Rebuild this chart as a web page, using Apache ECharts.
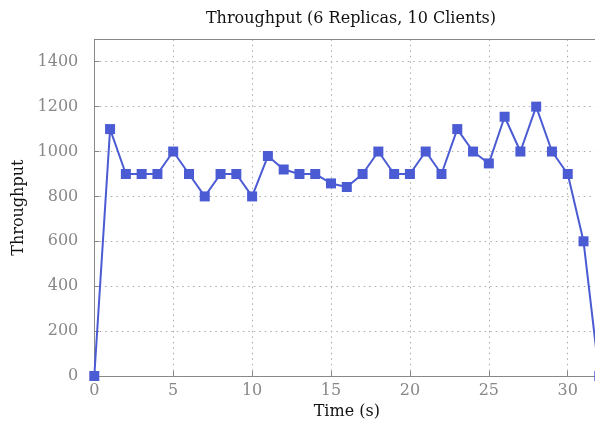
<!DOCTYPE html>
<html><head><meta charset="utf-8">
<script src="https://cdn.jsdelivr.net/npm/echarts@6/dist/echarts.min.js"></script>
<style>html,body{margin:0;padding:0;background:#fff}#c{width:595px;height:425px}</style>
</head><body><div id="c"></div>
<script>
const timeS = [0,1,2,3,4,5,6,7,8,9,10,11,12,13,14,15,16,17,18,19,20,21,22,23,24,25,26,27,28,29,30,31,32];
const throughput = [0,1100,900,900,900,1000,900,800,900,900,800,980,920,900,900,858,842,900,1000,900,900,1000,900,1100,1000,947,1155,1000,1200,1000,900,600,0];
const xTicks = [0,5,10,15,20,25,30];
const yTicks = [0,200,400,600,800,1000,1200,1400];

const FONT = '"DejaVu Serif", serif';
const chart = echarts.init(document.getElementById('c'), null, {renderer:'canvas'});
chart.setOption({
  animation:false,
  title:{text:'Throughput (6 Replicas, 10 Clients)', left:346, textAlign:'center', top:6,
    textStyle:{fontFamily:FONT, fontSize:16, fontWeight:'normal', color:'#111'}},
  grid:{left:94.3, top:39.3, right:-4.3, bottom:49, outerBoundsMode:'none', containLabel:false},
  xAxis:{type:'value', min:0, max:32, interval:5,
    name:'Time (s)', nameLocation:'middle', nameGap:27,
    nameTextStyle:{fontFamily:FONT, fontSize:16, color:'#111'},
    axisLine:{show:true, lineStyle:{color:'#888', width:1}},
    axisTick:{show:true, inside:true, length:5, lineStyle:{color:'#888'}, customValues: xTicks},
    axisLabel:{fontFamily:FONT, fontSize:16, color:'#888', margin:7,
      customValues: xTicks, formatter: v => String(v)},
    splitLine:{show:true, lineStyle:{type:[1.5,4], color:'#aaa', width:1}}},
  yAxis:{type:'value', min:0, max:1500, interval:200,
    name:'Throughput', nameLocation:'middle', nameGap:63,
    nameTextStyle:{fontFamily:FONT, fontSize:16, color:'#111'},
    axisLine:{show:true, lineStyle:{color:'#888', width:1}},
    axisTick:{show:true, inside:true, length:5, lineStyle:{color:'#888'}, customValues: yTicks},
    axisLabel:{fontFamily:FONT, fontSize:16, color:'#888', margin:16,
      customValues: yTicks, formatter: v => String(v)},
    splitLine:{show:true, lineStyle:{type:[1.5,4], color:'#aaa', width:1}}},
  graphic:[{type:'line', shape:{x1:94.3,y1:39.5,x2:600,y2:39.5}, style:{stroke:'#888', lineWidth:1}, z:10}],
  series:[{type:'line', data: timeS.map((t,i)=>[t, throughput[i]]),
    symbol:'rect', symbolSize:10, clip:false,
    lineStyle:{color:'#4b5bd3', width:2},
    itemStyle:{color:'#4b5bd3'}}]
});
</script></body></html>
